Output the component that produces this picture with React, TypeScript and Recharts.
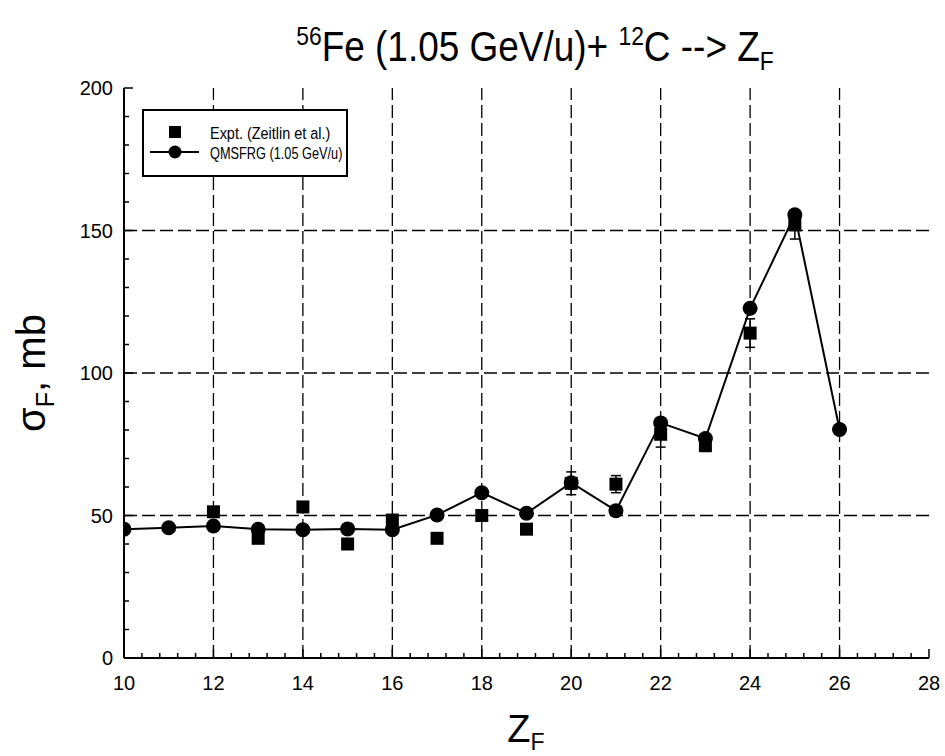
import React from 'react';
import { ComposedChart, Line, Scatter, XAxis, YAxis, ErrorBar, ReferenceLine } from 'recharts';

// QMSFRG model (1.05 GeV/u)
const zModel = [10, 11, 12, 13, 14, 15, 16, 17, 18, 19, 20, 21, 22, 23, 24, 25, 26];
const sigmaModel = [45.2, 45.7, 46.3, 45.2, 45.0, 45.3, 45.0, 50.2, 58.0, 50.8, 61.5, 51.7, 82.5, 77.0, 122.7, 155.5, 80.2];

// Experiment (Zeitlin et al.)
const zExpt = [12, 13, 14, 15, 16, 17, 18, 19, 20, 21, 22, 23, 24, 25];
const sigmaExpt = [51.3, 42.0, 53.0, 40.0, 48.4, 42.0, 50.0, 45.2, 61.3, 61.0, 78.5, 74.5, 114.0, 152.0];
const errExpt = [1.0, 1.0, 1.0, 1.0, 1.0, 1.0, 1.0, 1.0, 4.0, 3.0, 4.5, 2.0, 5.0, 5.0];

const xTickLabels = [10, 12, 14, 16, 18, 20, 22, 24, 26, 28];
const yTickLabels = [0, 50, 100, 150, 200];
const xGridLines = [12, 14, 16, 18, 20, 22, 24, 26];
const yGridLines = [50, 100, 150];

const xMinorStep = 0.4;
const yMinorStep = 10;

const modelData = zModel.map((z, i) => ({ z, y: sigmaModel[i] }));
const exptData = zExpt.map((z, i) => ({ z, y: sigmaExpt[i], err: errExpt[i] }));

const buildTicks = (min: number, max: number, step: number) => {
  const out: number[] = [];
  const n = Math.round((max - min) / step);
  for (let i = 0; i <= n; i++) out.push(Math.round((min + i * step) * 1000) / 1000);
  return out;
};
const xAllTicks = buildTicks(10, 28, xMinorStep);
const yAllTicks = buildTicks(0, 200, yMinorStep);

const isMajor = (v: number, labels: number[]) => labels.some((l) => Math.abs(l - v) < 1e-6);

const FONT = 'Arial, "Liberation Sans", Helvetica, sans-serif';

const BottomTick = (props: any) => {
  const { x, y, payload } = props;
  const v = payload.value;
  const major = isMajor(v, xTickLabels);
  return (
    <g>
      <line x1={x} x2={x} y1={y} y2={y - (major ? 9 : 5)} stroke="#000" strokeWidth={1.5} />
      {major && (
        <text x={x} y={y + 32} textAnchor="middle" fontSize={20} fontFamily={FONT} fill="#000">
          {v}
        </text>
      )}
    </g>
  );
};

const TopTick = (props: any) => {
  const { x, y, payload } = props;
  const major = isMajor(payload.value, xTickLabels);
  return <line x1={x} x2={x} y1={y} y2={y + (major ? 9 : 5)} stroke="#000" strokeWidth={1.5} />;
};

const LeftTick = (props: any) => {
  const { x, y, payload } = props;
  const v = payload.value;
  const major = isMajor(v, yTickLabels);
  return (
    <g>
      <line x1={x} x2={x + (major ? 9 : 5)} y1={y} y2={y} stroke="#000" strokeWidth={1.5} />
      {major && (
        <text x={x - 11} y={y + 7} textAnchor="end" fontSize={20} fontFamily={FONT} fill="#000">
          {v}
        </text>
      )}
    </g>
  );
};

const RightTick = (props: any) => {
  const { x, y, payload } = props;
  const major = isMajor(payload.value, yTickLabels);
  return <line x1={x} x2={x - (major ? 9 : 5)} y1={y} y2={y} stroke="#000" strokeWidth={1.5} />;
};

const SquareShape = (props: any) => {
  const { cx, cy } = props;
  if (cx == null || cy == null) return null;
  return <rect x={cx - 6.5} y={cy - 6.5} width={13} height={13} fill="#000" />;
};

export default function App() {
  return (
    <div style={{ position: 'absolute', left: 0, top: 0, width: 945, height: 756, background: '#fff' }}>
      <ComposedChart
        width={945}
        height={756}
        margin={{ top: 88, right: 16, left: 64, bottom: 58 }}
        style={{ position: 'absolute', left: 0, top: 0 }}
      >
        {xGridLines.map((v) => (
          <ReferenceLine key={'gx' + v} x={v} stroke="#000" strokeWidth={1.3} strokeDasharray="13 5" />
        ))}
        {yGridLines.map((v) => (
          <ReferenceLine key={'gy' + v} y={v} stroke="#000" strokeWidth={1.3} strokeDasharray="13 5" />
        ))}
        <XAxis
          dataKey="z"
          type="number"
          domain={[10, 28]}
          ticks={xAllTicks}
          interval={0}
          height={40}
          tickSize={0}
          tickMargin={0}
          tickLine={false}
          axisLine={{ stroke: '#000', strokeWidth: 2 }}
          tick={<BottomTick />}
          allowDataOverflow
        />
        <XAxis
          xAxisId="top"
          orientation="top"
          type="number"
          domain={[10, 28]}
          ticks={xAllTicks}
          interval={0}
          height={0}
          tickSize={0}
          tickMargin={0}
          tickLine={false}
          axisLine={{ stroke: '#000', strokeWidth: 2 }}
          tick={<TopTick />}
          allowDataOverflow
        />
        <YAxis
          dataKey="y"
          type="number"
          domain={[0, 200]}
          ticks={yAllTicks}
          interval={0}
          width={60}
          tickSize={0}
          tickMargin={0}
          tickLine={false}
          axisLine={{ stroke: '#000', strokeWidth: 2 }}
          tick={<LeftTick />}
          allowDataOverflow
        />
        <YAxis
          yAxisId="right"
          orientation="right"
          type="number"
          domain={[0, 200]}
          ticks={yAllTicks}
          interval={0}
          width={0}
          tickSize={0}
          tickMargin={0}
          tickLine={false}
          axisLine={{ stroke: '#000', strokeWidth: 2 }}
          tick={<RightTick />}
          allowDataOverflow
        />
        <Line
          data={modelData}
          dataKey="y"
          stroke="#000"
          strokeWidth={2}
          dot={{ r: 7.5, fill: '#000', stroke: '#000', strokeWidth: 0 }}
          isAnimationActive={false}
        />
        <Scatter data={exptData} dataKey="y" fill="#000" shape={<SquareShape />} isAnimationActive={false}>
          <ErrorBar dataKey="err" direction="y" width={5} stroke="#000" strokeWidth={1.5} />
        </Scatter>
      </ComposedChart>

      {/* Legend */}
      <div
        style={{
          position: 'absolute',
          left: 142,
          top: 109,
          width: 206,
          height: 68,
          border: '2px solid #000',
          boxSizing: 'border-box',
          background: '#fff',
        }}
      >
        <svg width={202} height={64} style={{ position: 'absolute', left: 0, top: 0 }}>
          <rect x={25} y={15} width={12} height={12} fill="#000" />
          <line x1={6} x2={55} y1={41} y2={41} stroke="#000" strokeWidth={2} />
          <circle cx={31} cy={41} r={6.5} fill="#000" />
          <g transform="translate(66,0) scale(0.85,1)">
            <text x={0} y={28} fontSize={17} fontFamily={FONT} fill="#000">
              Expt. (Zeitlin et al.)
            </text>
          </g>
          <g transform="translate(66,0) scale(0.75,1)">
            <text x={0} y={48} fontSize={17} fontFamily={FONT} fill="#000">
              QMSFRG (1.05 GeV/u)
            </text>
          </g>
        </svg>
      </div>

      {/* Title and axis labels */}
      <svg width={945} height={756} style={{ position: 'absolute', left: 0, top: 0, pointerEvents: 'none' }}>
        <g transform="translate(535,0) scale(0.88,1)">
          <text x={0} y={61} textAnchor="middle" fontSize={42} fontFamily={FONT} fill="#000">
            <tspan fontSize={26} dy={-16}>56</tspan>
            <tspan dy={16}>Fe (1.05 GeV/u)+ </tspan>
            <tspan fontSize={26} dy={-16}>12</tspan>
            <tspan dy={16}>C --&gt; Z</tspan>
            <tspan fontSize={26} dy={9}>F</tspan>
          </text>
        </g>
        <text x={526} y={742} textAnchor="middle" fontSize={38} fontFamily={FONT} fill="#000">
          Z<tspan fontSize={23} dy={8}>F</tspan>
        </text>
        <text
          transform="translate(45,373) rotate(-90)"
          textAnchor="middle"
          fontSize={40}
          fontFamily={FONT}
          fill="#000"
        >
          σ<tspan fontSize={25} dy={9}>F</tspan>
          <tspan dy={-9}>, mb</tspan>
        </text>
      </svg>
    </div>
  );
}
